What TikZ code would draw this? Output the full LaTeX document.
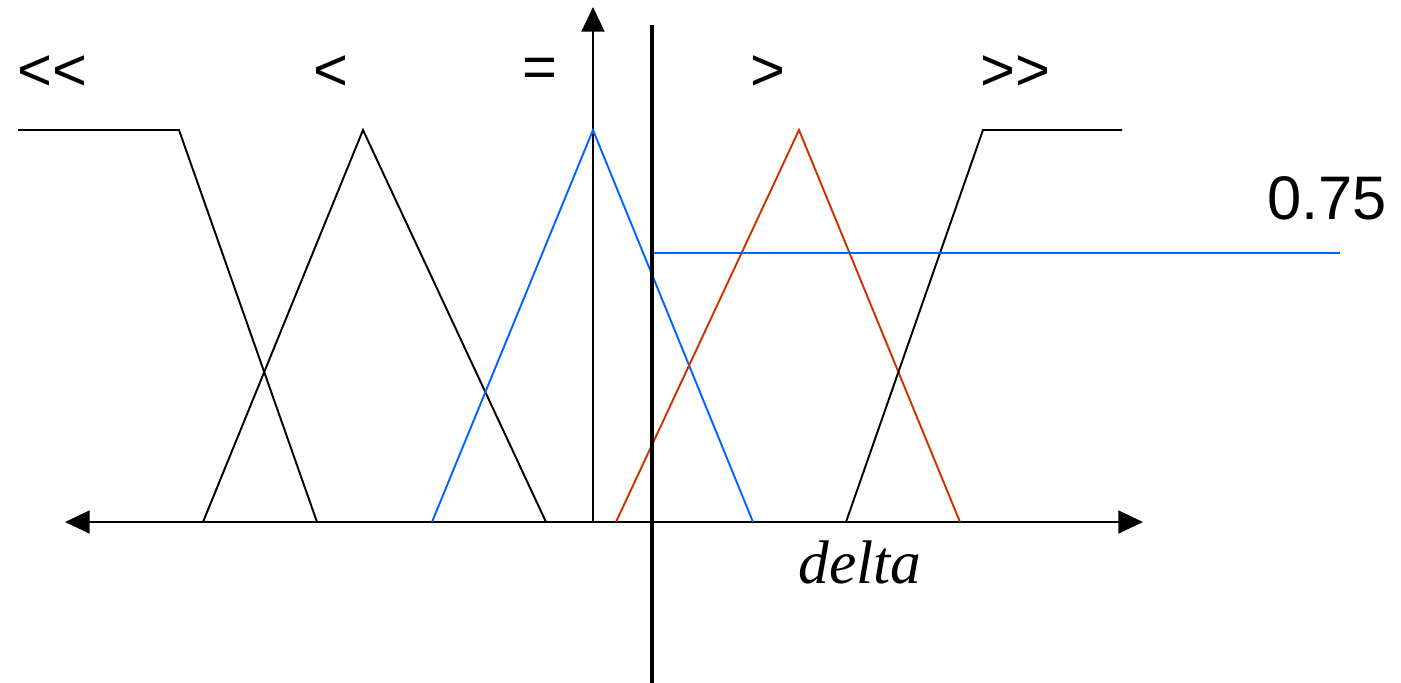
\documentclass[tikz,border=0pt]{standalone}
\usepackage{fontspec}
\setmainfont{Liberation Sans}
\newfontfamily\serifit{Liberation Serif}
\usetikzlibrary{arrows.meta}
\definecolor{fblue}{HTML}{0066FF}
\definecolor{fred}{HTML}{CC3300}
\tikzset{
  mf/.style={line width=1.1pt, line join=miter},
  axisline/.style={line width=1.1pt, -{Triangle[length=14pt,width=13pt]}},
  lbl/.style={inner sep=0pt, font=\fontsize{34}{40}\selectfont},
}
\begin{document}
\begin{tikzpicture}[x=0.02cm,y=-0.02cm]
\useasboundingbox (0,0) rectangle (1401,683);
% coordinates
\coordinate (o) at (593,522);
\coordinate (xl) at (65,522);
\coordinate (xr) at (1143,522);
\coordinate (yt) at (593,7);
\coordinate (vt) at (652,25);
\coordinate (vb) at (652,683);
\coordinate (h0) at (652,253);
\coordinate (h1) at (1340,253);
% axes
\draw[axisline] (o) -- (xl);
\draw[axisline] (o) -- (xr);
\draw[axisline] (o) -- (yt);
% membership functions
\draw[mf] (18,130) -- (179,130) -- (317,522);
\draw[mf] (203,522) -- (363,130) -- (546,522);
\draw[mf, fblue] (432,522) -- (593,130) -- (753,522);
\draw[mf, fred] (616,522) -- (799,130) -- (960,522);
\draw[mf] (846,522) -- (983,130) -- (1122,130);
% input line and level
\draw[fblue, line width=1.1pt] (652,262) -- (h0) -- (h1);
\draw[line width=2.4pt] (vt) -- (vb);
% labels
\node[lbl] (l1) at (52,73) {\mbox{<}\mbox{<}};
\node[lbl] (l2) at (331,73) {<};
\node[lbl] (l3) at (540,73) {=};
\node[lbl] (l4) at (768,73) {>};
\node[lbl] (l5) at (1015,73) {\mbox{>}\mbox{>}};
\node[inner sep=0pt, font=\fontsize{35}{42}\selectfont] (v) at (1327,198) {0.75};
\node[inner sep=0pt, font=\serifit\itshape\fontsize{35}{42}\selectfont] (d) at (860,562) {delta};
\end{tikzpicture}
\end{document}
